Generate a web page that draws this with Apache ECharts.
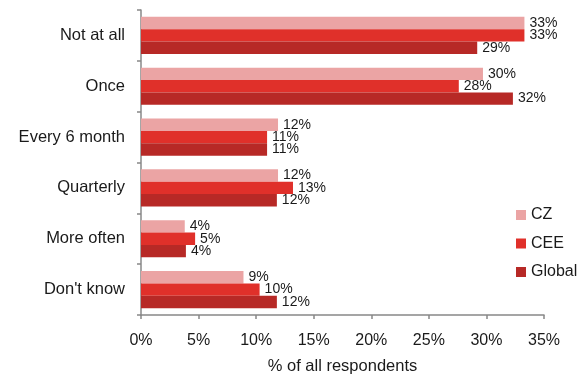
<!DOCTYPE html>
<html>
<head>
<meta charset="utf-8">
<script src="https://cdn.jsdelivr.net/npm/echarts@6/dist/echarts.min.js"></script>
<style>html,body{margin:0;padding:0;background:#fff}#c{width:582px;height:376px}</style>
</head>
<body>
<div id="c"></div>
<script>
const categories = ["Not at all", "Once", "Every 6 month", "Quarterly", "More often", "Don't know"];
const seriesNames = ["CZ", "CEE", "Global"];
const czValues = [33.3, 29.7, 11.9, 11.9, 3.8, 8.9];
const ceeValues = [33.3, 27.6, 10.95, 13.2, 4.7, 10.3];
const globalValues = [29.2, 32.3, 10.95, 11.8, 3.9, 11.8];
const xTicks = [0, 5, 10, 15, 20, 25, 30, 35];
const colors = ["#EBA4A4", "#E0302A", "#B72926"];
const FONT = "Liberation Sans, Arial, sans-serif";

const chart = echarts.init(document.getElementById('c'), null, {renderer: 'canvas'});
const mk = (name, data, color) => ({
  name, type: 'bar', data,
  barGap: '0%', barCategoryGap: '27%',
  itemStyle: {color},
  label: {show: true, position: 'right', distance: 5, color: '#1a1a1a', fontSize: 14, fontFamily: FONT,
    formatter: p => Math.round(p.value) + '%'}
});
chart.setOption({
  animation: false,
  textStyle: {fontFamily: FONT},
  grid: {left: 141, right: 38, top: 10, bottom: 61, containLabel: false, outerBoundsMode: 'none'},
  legend: {
    orient: 'vertical', left: 511, top: 202, itemWidth: 10, itemHeight: 10, itemGap: 12.5,
    icon: 'rect', textStyle: {fontSize: 16, color: '#1a1a1a', fontFamily: FONT},
    data: seriesNames
  },
  xAxis: {
    type: 'value', min: xTicks[0], max: xTicks[xTicks.length - 1], interval: 5,
    name: '% of all respondents', nameLocation: 'middle', nameGap: 43,
    nameTextStyle: {fontSize: 16.5, color: '#1a1a1a', fontFamily: FONT},
    axisLine: {show: true, lineStyle: {color: '#888', width: 1.5}},
    axisTick: {show: true, length: 4, lineStyle: {color: '#888', width: 1.5}},
    axisLabel: {formatter: '{value}%', fontSize: 16, color: '#1a1a1a', margin: 18, fontFamily: FONT},
    splitLine: {show: false}
  },
  yAxis: {
    type: 'category', data: categories, inverse: true,
    axisLine: {show: true, lineStyle: {color: '#888', width: 1.5}},
    axisTick: {show: true, length: 4, lineStyle: {color: '#888', width: 1.5}},
    axisLabel: {fontSize: 16.5, color: '#1a1a1a', margin: 16, fontFamily: FONT}
  },
  series: [mk(seriesNames[0], czValues, colors[0]), mk(seriesNames[1], ceeValues, colors[1]), mk(seriesNames[2], globalValues, colors[2])]
});
</script>
</body>
</html>
